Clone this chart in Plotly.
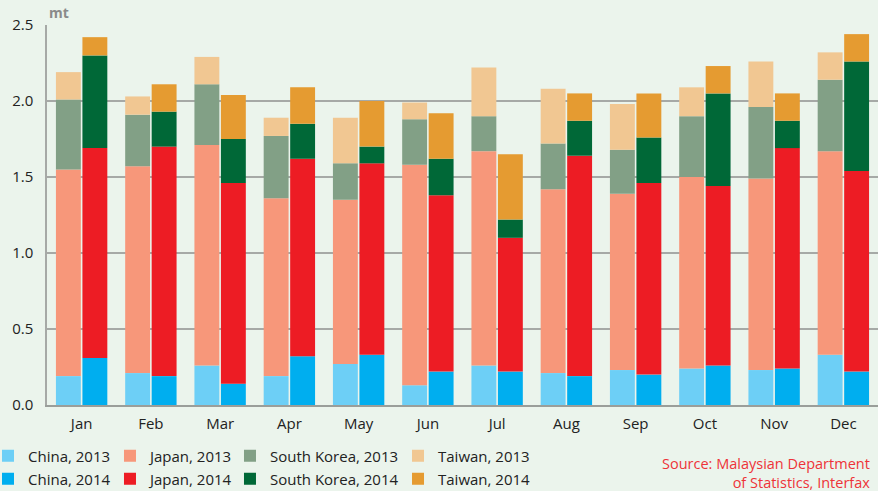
import plotly.graph_objects as go
import numpy as np

months = ["Jan", "Feb", "Mar", "Apr", "May", "Jun", "Jul", "Aug", "Sep", "Oct", "Nov", "Dec"]

china_2013 = [0.19, 0.21, 0.26, 0.19, 0.27, 0.13, 0.26, 0.21, 0.23, 0.24, 0.23, 0.33]
japan_2013 = [1.36, 1.36, 1.45, 1.17, 1.08, 1.45, 1.41, 1.21, 1.16, 1.26, 1.26, 1.34]
korea_2013 = [0.46, 0.34, 0.40, 0.41, 0.24, 0.30, 0.23, 0.30, 0.29, 0.40, 0.47, 0.47]
taiwan_2013 = [0.18, 0.12, 0.18, 0.12, 0.30, 0.11, 0.32, 0.36, 0.30, 0.19, 0.30, 0.18]

china_2014 = [0.31, 0.19, 0.14, 0.32, 0.33, 0.22, 0.22, 0.19, 0.20, 0.26, 0.24, 0.22]
japan_2014 = [1.38, 1.51, 1.32, 1.30, 1.26, 1.16, 0.88, 1.45, 1.26, 1.18, 1.45, 1.32]
korea_2014 = [0.61, 0.23, 0.29, 0.23, 0.11, 0.24, 0.12, 0.23, 0.30, 0.61, 0.18, 0.72]
taiwan_2014 = [0.12, 0.18, 0.29, 0.24, 0.30, 0.30, 0.43, 0.18, 0.29, 0.18, 0.18, 0.18]

y_ticks = [0.0, 0.5, 1.0, 1.5, 2.0, 2.5]

source_text = "Source: Malaysian Department<br>of Statistics, Interfax"

series = [
    ("China, 2013", china_2013, "#6DCFF6", "2013"),
    ("Japan, 2013", japan_2013, "#F7977A", "2013"),
    ("South Korea, 2013", korea_2013, "#82A086", "2013"),
    ("Taiwan, 2013", taiwan_2013, "#F1C792", "2013"),
    ("China, 2014", china_2014, "#00AEEF", "2014"),
    ("Japan, 2014", japan_2014, "#ED1C24", "2014"),
    ("South Korea, 2014", korea_2014, "#006837", "2014"),
    ("Taiwan, 2014", taiwan_2014, "#E59B31", "2014"),
]

# legend placement (paper coords): columns and rows
legend_cols = [-0.071, 0.0758, 0.2202, 0.4224]
legend_rows = [-0.134, -0.195]

fig = go.Figure()
bases = {"2013": np.zeros(len(months)), "2014": np.zeros(len(months))}
legend_layout = {}
for i, (name, vals, color, grp) in enumerate(series):
    v = np.array(vals)
    leg_id = "legend" if i == 0 else f"legend{i + 1}"
    fig.add_trace(go.Bar(
        x=months, y=v, base=bases[grp].copy(), name=name,
        marker=dict(color=color, line=dict(width=0)),
        offsetgroup=grp, legend=leg_id,
    ))
    bases[grp] = bases[grp] + v
    legend_layout[leg_id] = dict(
        orientation="h", xref="paper", yref="paper",
        x=legend_cols[i % 4], y=legend_rows[i // 4],
        xanchor="left", yanchor="middle",
        bgcolor="rgba(0,0,0,0)", font=dict(size=15, color="#222222"),
        itemclick=False, itemdoubleclick=False,
    )

font_family = "Open Sans, Noto Sans, sans-serif"
fig.update_layout(
    width=878, height=491,
    barmode="group", bargap=0.235, bargroupgap=0.06,
    paper_bgcolor="#EBF4EC", plot_bgcolor="#EBF4EC",
    margin=dict(l=47, r=0, t=25, b=86, autoexpand=False),
    font=dict(family=font_family, size=15, color="#222222"),
    xaxis=dict(
        showgrid=False, showline=True, linecolor="#9A9E9A", linewidth=2,
        ticks="", ticklabelstandoff=4, tickfont=dict(size=15, color="#222222"),
        fixedrange=True,
    ),
    yaxis=dict(
        range=[0, 2.5], tickvals=y_ticks, tickformat=".1f",
        showgrid=True, gridcolor="#A6A9A6", gridwidth=1.5,
        showline=True, linecolor="#A6A9A6", linewidth=1.5,
        zeroline=False, ticks="", ticklabelstandoff=9,
        tickfont=dict(size=15, color="#222222"),
        fixedrange=True,
    ),
    showlegend=True,
    **legend_layout,
)

fig.add_annotation(
    text="<b>mt</b>", xref="paper", yref="paper", x=0, y=1,
    xanchor="left", yanchor="bottom", yshift=1, showarrow=False,
    font=dict(size=14, color="#8A8A8A"),
)
fig.add_annotation(
    text=source_text, xref="paper", yref="paper", x=1, y=0,
    xanchor="right", yanchor="top", xshift=-6, yshift=-47,
    align="right", showarrow=False,
    font=dict(size=14.5, color="#EE3338"),
)

fig.write_html(
    "out.html",
    config={"displayModeBar": False},
    post_script="document.body.style.margin='0';document.body.style.overflow='hidden';",
)
